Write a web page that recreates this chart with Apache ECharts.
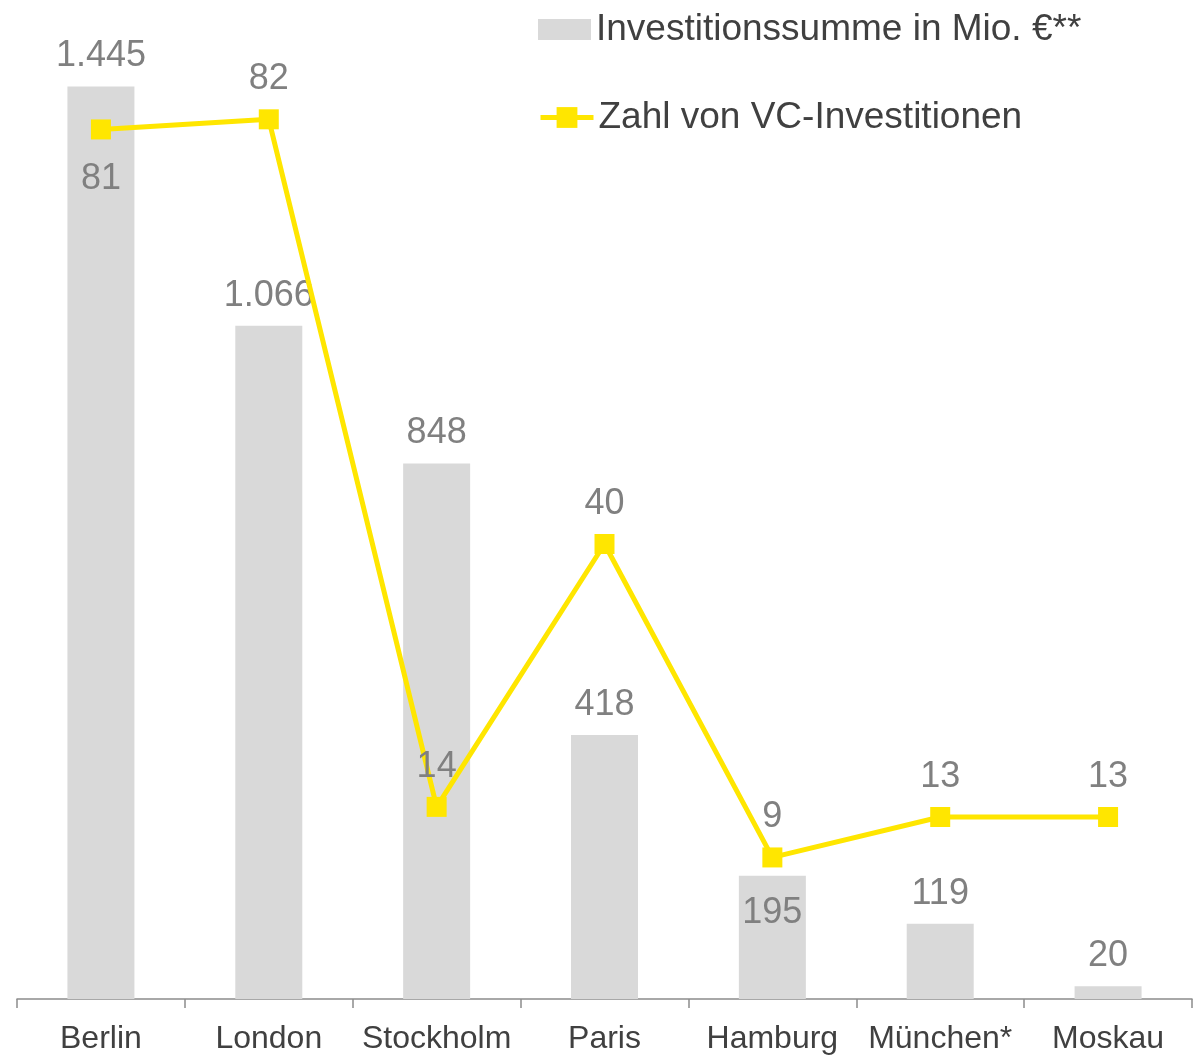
<!DOCTYPE html>
<html>
<head>
<meta charset="utf-8">
<script src="https://cdn.jsdelivr.net/npm/echarts@6/dist/echarts.min.js"></script>
<style>
html,body{margin:0;padding:0;background:#fff;}
#chart{width:1198px;height:1055px;}
</style>
</head>
<body>
<div id="chart"></div>
<script>
const categories = ['Berlin', 'London', 'Stockholm', 'Paris', 'Hamburg', 'München*', 'Moskau'];
const investSum = [1445, 1066, 848, 418, 195, 119, 20];
const investCount = [81, 82, 14, 40, 9, 13, 13];
const seriesNames = ['Investitionssumme in Mio. €**', 'Zahl von VC-Investitionen'];

function deFormat(v) {
  return String(v).replace(/\B(?=(\d{3})+(?!\d))/g, '.');
}

const FONT = '"Liberation Sans", Arial, sans-serif';
const chart = echarts.init(document.getElementById('chart'), null, {renderer: 'canvas'});

const barData = investSum.map((v, i) => categories[i] === 'Hamburg'
  ? {value: v, label: {position: 'insideTop', distance: 19}}
  : v);
const lineData = investCount.map((v, i) => categories[i] === 'Berlin'
  ? {value: v, label: {position: 'bottom', distance: 22}}
  : v);

const legendText = {fontFamily: FONT, fontSize: 37, color: '#404040'};

chart.setOption({
  animation: false,
  backgroundColor: '#ffffff',
  textStyle: {fontFamily: FONT},
  grid: {left: 17, right: 6, top: 0, bottom: 55, containLabel: false},
  legend: [
    {
      orient: 'vertical',
      left: 538,
      top: 11,
      padding: 0,
      itemWidth: 53,
      itemHeight: 21,
      textStyle: legendText,
      data: [{name: seriesNames[0], icon: 'rect'}]
    },
    {
      orient: 'vertical',
      left: 538,
      top: 99,
      padding: 0,
      itemWidth: 53,
      itemHeight: 26,
      lineStyle: {width: 5, color: '#ffe600'},
      textStyle: legendText,
      data: [seriesNames[1]]
    }
  ],
  xAxis: {
    type: 'category',
    data: categories,
    boundaryGap: true,
    axisLine: {show: true, lineStyle: {color: '#8c8c8c', width: 1.5}},
    axisTick: {show: true, length: 9, lineStyle: {color: '#8c8c8c', width: 1.5}},
    axisLabel: {fontFamily: FONT, fontSize: 32, color: '#404040', margin: 24, interval: 0}
  },
  yAxis: [
    {type: 'value', min: 0, max: 1582, show: false, splitLine: {show: false}},
    {type: 'value', min: -5, max: 93.8, show: false, splitLine: {show: false}}
  ],
  series: [
    {
      name: seriesNames[0],
      type: 'bar',
      yAxisIndex: 0,
      data: barData,
      barWidth: 67,
      itemStyle: {color: '#d9d9d9'},
      label: {
        show: true, position: 'top', distance: 12,
        fontFamily: FONT, fontSize: 36, color: '#808080',
        formatter: p => deFormat(p.value)
      },
      z: 1
    },
    {
      name: seriesNames[1],
      type: 'line',
      yAxisIndex: 1,
      data: lineData,
      symbol: 'rect',
      symbolSize: 20,
      lineStyle: {color: '#ffe600', width: 5},
      itemStyle: {color: '#ffe600'},
      label: {
        show: true, position: 'top', distance: 12,
        fontFamily: FONT, fontSize: 36, color: '#808080'
      },
      z: 3
    }
  ]
});
</script>
</body>
</html>
